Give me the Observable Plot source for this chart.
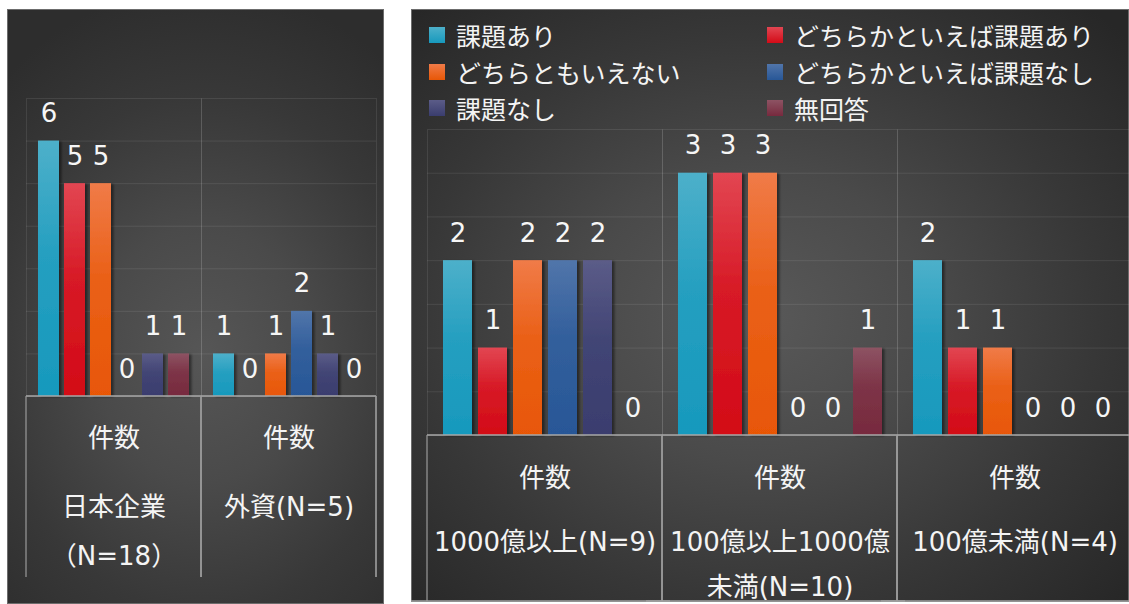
<!DOCTYPE html>
<html lang="ja">
<head>
<meta charset="utf-8">
<script src="https://cdn.jsdelivr.net/npm/d3@7"></script>
<script src="https://cdn.jsdelivr.net/npm/@observablehq/plot@0.6"></script>
<style>
  html, body { margin: 0; padding: 0; background: #ffffff; }
  body { width: 1129px; height: 604px; position: relative; overflow: hidden;
         font-family: "DejaVu Sans", "Noto Sans CJK JP", sans-serif; }
  .panel { position: absolute; overflow: hidden; box-shadow: inset 0 0 0 1px #6c6c6c; }
  #left { left: 7px; top: 9px; width: 377px; height: 595px;
          background: radial-gradient(ellipse 80% 62% at 52% 58%, #565656 0%, #4a4a4a 35%, #383838 70%, #2d2d2d 100%); }
  #right { left: 411px; top: 9px; width: 718px; height: 593px;
           background: radial-gradient(ellipse 70% 70% at 48% 52%, #595959 0%, #4a4a4a 35%, #373737 68%, #272727 100%); }
  .panel svg { position: absolute; left: 0; top: 0; max-width: none !important; }
  .legend-item { position: absolute; display: flex; align-items: center; height: 30px;
                 color: #f4f4f4; font-size: 25px; line-height: 30px; white-space: nowrap;
                 font-family: "Noto Sans CJK JP", sans-serif; }
  .legend-item .sw { width: 16px; height: 16px; margin-right: 11px; flex: none; }
</style>
</head>
<body>
<div id="left" class="panel"></div>
<div id="right" class="panel"></div>
<script>
// Response categories (legend order) and their bar colours (top → bottom of the gradient)
const series = ["課題あり", "どちらかといえば課題あり", "どちらともいえない", "どちらかといえば課題なし", "課題なし", "無回答"];
const colorTop = ["#4db0ca", "#e24652", "#f07b48", "#5175aa", "#5b5c88", "#8d5363"];
const colorBottom = ["#1799bd", "#d30b17", "#e85706", "#285797", "#3a3d6e", "#772a3e"];

// Left chart: Japanese vs. foreign companies
const groupsOrigin = ["日本企業（N=18）", "外資(N=5)"];
const labelsOrigin = ["日本企業\n（N=18）", "外資(N=5)"];
const valuesJapan = [6, 5, 5, 0, 1, 1];
const valuesForeign = [1, 0, 1, 2, 1, 0];

// Right chart: by company size
const groupsSize = ["1000億以上(N=9)", "100億以上1000億未満(N=10)", "100億未満(N=4)"];
const labelsSize = ["1000億以上(N=9)", "100億以上1000億\n未満(N=10)", "100億未満(N=4)"];
const values1000 = [2, 1, 2, 2, 2, 0];
const values100 = [3, 3, 3, 0, 0, 1];
const valuesUnder100 = [2, 1, 1, 0, 0, 0];

const rowLabel = "件数";
const fontFamily = "'DejaVu Sans', 'Noto Sans CJK JP', sans-serif";

// Shared gradient and shadow definitions
const defsSvg = d3.select("body").append("svg")
  .attr("width", 0).attr("height", 0)
  .style("position", "absolute").style("left", "0").style("top", "0");
const defs = defsSvg.append("defs");
series.forEach((s, i) => {
  const g = defs.append("linearGradient").attr("id", `barGrad${i}`)
    .attr("x1", 0).attr("y1", 0).attr("x2", 0).attr("y2", 1);
  g.append("stop").attr("offset", "0%").attr("stop-color", colorTop[i]);
  g.append("stop").attr("offset", "45%").attr("stop-color", d3.interpolateRgb(colorTop[i], colorBottom[i])(0.75));
  g.append("stop").attr("offset", "100%").attr("stop-color", colorBottom[i]);
});
const shadow = defs.append("filter").attr("id", "barShadow")
  .attr("x", "-20%").attr("y", "-5%").attr("width", "150%").attr("height", "115%");
shadow.append("feDropShadow").attr("dx", 2.5).attr("dy", 1).attr("stdDeviation", 1.3)
  .attr("flood-color", "#000").attr("flood-opacity", 0.45);
const gradUrls = series.map((s, i) => `url(#barGrad${i})`);

function makeRows(groups, valueLists) {
  return groups.flatMap((g, i) => series.map((s, j) => ({group: g, series: s, value: valueLists[i][j]})));
}

// Lines of the category table below the bars, placed on the fx scale
function tableLines(groups, tableBottom, drawBottom) {
  return (index, scales, values, dims) => {
    const fx = scales.fx;
    const base = dims.height - dims.marginBottom;
    const xs = groups.map((g) => fx(g));
    xs.push(dims.width - dims.marginRight);
    const g = d3.create("svg:g");
    g.append("line").attr("x1", xs[0]).attr("x2", xs[xs.length - 1])
      .attr("y1", base).attr("y2", base)
      .attr("stroke", "#a8a8a8").attr("stroke-width", 1.5);
    xs.forEach((x) => {
      g.append("line").attr("x1", x).attr("x2", x).attr("y1", base).attr("y2", tableBottom)
        .attr("stroke", "#9a9a9a").attr("stroke-width", 1.2);
    });
    if (drawBottom) {
      g.append("line").attr("x1", 0).attr("x2", dims.width)
        .attr("y1", tableBottom).attr("y2", tableBottom)
        .attr("stroke", "#a0a0a0").attr("stroke-width", 1.5);
    }
    return g.node();
  };
}

function chart(o) {
  const rows = makeRows(o.groups, o.values);
  const gridStroke = "rgba(255,255,255,0.09)";
  const svg = Plot.plot({
    width: o.width,
    height: o.height,
    marginTop: o.marginTop,
    marginLeft: o.marginLeft,
    marginRight: o.marginRight,
    marginBottom: o.marginBottom,
    style: {fontFamily, background: "transparent", color: "#f4f4f4", overflow: "visible", maxWidth: "none"},
    fx: {domain: o.groups, padding: 0, axis: null},
    x: {domain: series, paddingInner: 0.18, paddingOuter: 0.42, axis: null},
    y: {domain: [0, o.yMax], axis: null},
    color: {domain: series, range: gradUrls},
    marks: [
      Plot.frame({stroke: gridStroke}),
      Plot.ruleY(o.yGrid, {stroke: gridStroke}),
      Plot.barY(rows, {fx: "group", x: "series", y: "value", fill: "series"}),
      Plot.text(rows, {fx: "group", x: "series", y: "value", text: (d) => String(d.value),
        fill: "#f6f6f6", fontSize: 26, lineAnchor: "bottom", dy: -19}),
      Plot.axisFx({anchor: "bottom", label: null, tickSize: 0, tickPadding: o.rowPad,
        tickFormat: () => rowLabel, fontSize: 26, color: "#f4f4f4"}),
      Plot.axisFx({anchor: "bottom", label: null, tickSize: 0, tickPadding: o.labelPad,
        tickFormat: (d) => o.labels[o.groups.indexOf(d)], fontSize: 26, lineHeight: o.lineHeight, color: "#f4f4f4"}),
      tableLines(o.groups, o.tableBottom, o.drawBottom)
    ]
  });
  d3.select(svg).selectAll('g[aria-label="bar"] rect').attr("filter", "url(#barShadow)");
  return svg;
}

document.getElementById("left").appendChild(chart({
  groups: groupsOrigin, labels: labelsOrigin, values: [valuesJapan, valuesForeign],
  width: 377, height: 595, marginTop: 89, marginLeft: 19, marginRight: 8, marginBottom: 208,
  yMax: 7, yGrid: d3.range(1, 7), rowPad: 32, labelPad: 85, lineHeight: 1.88,
  tableBottom: 568, drawBottom: false
}));

const right = document.getElementById("right");
right.appendChild(chart({
  groups: groupsSize, labels: labelsSize, values: [values1000, values100, valuesUnder100],
  width: 729, height: 593, marginTop: 120, marginLeft: 16, marginRight: 8, marginBottom: 167,
  yMax: 3.5, yGrid: d3.range(0.5, 3.5, 0.5), rowPad: 33, labelPad: 84, lineHeight: 1.72,
  tableBottom: 592, drawBottom: true
}));

// Legend: two columns, three rows
series.forEach((s, i) => {
  const item = document.createElement("div");
  item.className = "legend-item";
  item.style.left = `${18 + (i % 2) * 338}px`;
  item.style.top = `${11 + Math.floor(i / 2) * 36.5}px`;
  const sw = document.createElement("span");
  sw.className = "sw";
  sw.style.background = `linear-gradient(${colorTop[i]}, ${colorBottom[i]})`;
  const label = document.createElement("span");
  label.textContent = s;
  item.appendChild(sw);
  item.appendChild(label);
  right.appendChild(item);
});
</script>
</body>
</html>
